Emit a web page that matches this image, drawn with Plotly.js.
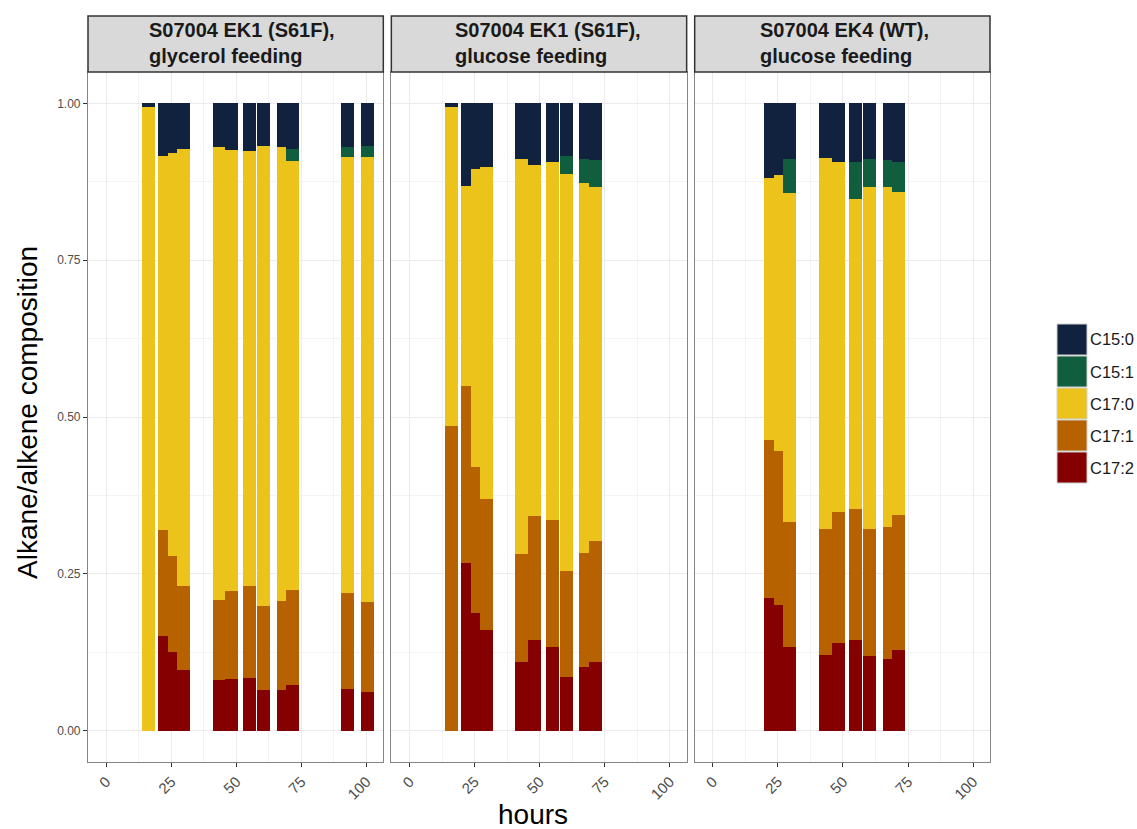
<!DOCTYPE html>
<html><head><meta charset="utf-8">
<script src="https://cdn.plot.ly/plotly-3.0.1.min.js"></script>
<style>html,body{margin:0;padding:0;background:#fff}#chart{width:1137px;height:829px}</style>
</head><body><div id="chart"></div>
<script>
// ---- data ----
const species = ['C15:0', 'C15:1', 'C17:0', 'C17:1', 'C17:2'];
const speciesColors = ['#11223f', '#105e3e', '#ecc31b', '#b76200', '#850000'];
const panelTitles = ['S07004 EK1 (S61F),<br>glycerol feeding', 'S07004 EK1 (S61F),<br>glucose feeding', 'S07004 EK4 (WT),<br>glucose feeding'];
const xTickVals = [0, 25, 50, 75, 100];
const yTickVals = [0, 0.25, 0.5, 0.75, 1];
const yTickText = ['0.00', '0.25', '0.50', '0.75', '1.00'];

// panel 1: EK1 (S61F), glycerol feeding
const p1Hours = [16.4, 22.4, 26.2, 29.8, 43.5, 48.3, 55.1, 60.4, 68.1, 71.6, 92.6, 100.3];
const p1C15_0 = [0.005, 0.084, 0.079, 0.073, 0.069, 0.074, 0.076, 0.068, 0.070, 0.072, 0.070, 0.068];
const p1C15_1 = [0, 0, 0, 0, 0, 0, 0, 0, 0, 0.020, 0.016, 0.018];
const p1C17_0 = [0.995, 0.596, 0.642, 0.696, 0.722, 0.704, 0.694, 0.733, 0.724, 0.684, 0.695, 0.709];
const p1C17_1 = [0, 0.169, 0.153, 0.134, 0.129, 0.140, 0.146, 0.134, 0.141, 0.151, 0.153, 0.143];
const p1C17_2 = [0, 0.151, 0.126, 0.097, 0.080, 0.082, 0.084, 0.065, 0.065, 0.073, 0.066, 0.062];

// panel 2: EK1 (S61F), glucose feeding
const p2Hours = [16.1, 22.1, 26.0, 29.6, 43.1, 48.0, 55.0, 60.2, 67.8, 71.3];
const p2C15_0 = [0.005, 0.131, 0.104, 0.101, 0.088, 0.098, 0.094, 0.084, 0.089, 0.090];
const p2C15_1 = [0, 0, 0, 0, 0, 0, 0, 0.028, 0.038, 0.044];
const p2C17_0 = [0.510, 0.319, 0.476, 0.530, 0.631, 0.560, 0.570, 0.634, 0.590, 0.563];
const p2C17_1 = [0.485, 0.283, 0.232, 0.209, 0.172, 0.198, 0.202, 0.169, 0.182, 0.193];
const p2C17_2 = [0, 0.267, 0.188, 0.160, 0.109, 0.144, 0.134, 0.085, 0.101, 0.110];

// panel 3: EK4 (WT), glucose feeding
const p3Hours = [22.1, 26.0, 29.6, 43.3, 48.1, 54.9, 60.1, 67.9, 71.3];
const p3C15_0 = [0.119, 0.114, 0.089, 0.087, 0.094, 0.094, 0.089, 0.091, 0.094];
const p3C15_1 = [0, 0, 0.054, 0, 0, 0.059, 0.045, 0.042, 0.047];
const p3C17_0 = [0.418, 0.440, 0.525, 0.591, 0.558, 0.494, 0.544, 0.543, 0.515];
const p3C17_1 = [0.252, 0.245, 0.198, 0.202, 0.208, 0.209, 0.203, 0.210, 0.215];
const p3C17_2 = [0.211, 0.201, 0.134, 0.120, 0.140, 0.144, 0.119, 0.114, 0.129];

const barWidth = 5;

// ---- build ----
const panels = [
  {hours: p1Hours, vals: [p1C15_0, p1C15_1, p1C17_0, p1C17_1, p1C17_2]},
  {hours: p2Hours, vals: [p2C15_0, p2C15_1, p2C17_0, p2C17_1, p2C17_2]},
  {hours: p3Hours, vals: [p3C15_0, p3C15_1, p3C17_0, p3C17_1, p3C17_2]}
];

const traces = [];
panels.forEach((p, pi) => {
  const xa = pi === 0 ? 'x' : 'x' + (pi + 1);
  const ya = pi === 0 ? 'y' : 'y' + (pi + 1);
  p.hours.forEach((h, bi) => {
    // stack bottom to top: C17:2, C17:1, C17:0, C15:1, C15:0
    for (let s = species.length - 1; s >= 0; s--) {
      traces.push({
        type: 'bar', x: [h], y: [p.vals[s][bi]], width: barWidth,
        xaxis: xa, yaxis: ya, name: species[s],
        marker: {color: speciesColors[s], line: {width: 0}},
        showlegend: false,
        hovertemplate: species[s] + ': %{y:.3f}<extra>%{x} h</extra>'
      });
    }
  });
});

// pixel helpers for layout
const W = 1137, H = 829;
const ml = 88, mr = 147, mt = 72, mb = 67;
const pw = W - ml - mr, ph = H - mt - mb;
const px = v => (v - ml) / pw;
const py = v => (H - mb - v) / ph;

const domains = [[0, 0.3274], [0.3363, 0.6637], [0.6726, 1]];
const xRange = [-7, 106.5];
const yRange = [-0.05, 1.05];

const layout = {
  width: W, height: H,
  margin: {l: ml, r: mr, t: mt, b: mb},
  paper_bgcolor: '#ffffff', plot_bgcolor: '#ffffff',
  barmode: 'stack',
  showlegend: false,
  font: {family: 'Liberation Sans, Arial, sans-serif', color: '#1a1a1a'},
  shapes: [], annotations: []
};

domains.forEach((d, i) => {
  const sx = i === 0 ? '' : String(i + 1);
  layout['xaxis' + sx] = {
    domain: d, range: xRange, anchor: 'y' + sx,
    tickvals: xTickVals, ticktext: xTickVals.map(String), tickangle: -45,
    ticks: 'outside', ticklen: 4, tickcolor: '#333333', tickwidth: 1,
    tickfont: {size: 15, color: '#4d4d4d'},
    showgrid: true, gridcolor: '#ebebeb', gridwidth: 1,
    minor: {dtick: 12.5, tick0: 12.5, showgrid: true, gridcolor: '#f3f3f3', gridwidth: 0.7, ticks: ''},
    zeroline: false, showline: true, mirror: true, linecolor: '#858585', linewidth: 1.2,
    fixedrange: true
  };
  layout['yaxis' + sx] = {
    domain: [0, 1], range: yRange, anchor: 'x' + sx,
    tickvals: yTickVals, ticktext: yTickText,
    ticks: i === 0 ? 'outside' : '', ticklen: 4, tickcolor: '#333333',
    showticklabels: i === 0,
    tickfont: {size: 12, color: '#4d4d4d'},
    showgrid: true, gridcolor: '#ebebeb', gridwidth: 1,
    minor: {dtick: 0.125, tick0: 0.125, showgrid: true, gridcolor: '#f3f3f3', gridwidth: 0.7, ticks: ''},
    zeroline: false, showline: true, mirror: true, linecolor: '#858585', linewidth: 1.2,
    fixedrange: true
  };
  // facet strip
  layout.shapes.push({
    type: 'rect', xref: 'paper', yref: 'paper',
    x0: d[0], x1: d[1], y0: 1.0, y1: py(16),
    fillcolor: '#d9d9d9', line: {color: '#333333', width: 1.5}, layer: 'above'
  });
});

const stripLeft = [147, 453, 758];
panelTitles.forEach((t, i) => {
  layout.annotations.push({
    text: t, xref: 'paper', yref: 'paper', x: px(stripLeft[i]), y: py(43),
    xanchor: 'left', yanchor: 'middle', align: 'left', showarrow: false,
    font: {size: 20, color: '#1a1a1a', family: 'Liberation Sans, Arial, sans-serif', weight: 'bold'}
  });
});

// axis titles
layout.annotations.push({
  text: 'hours', xref: 'paper', yref: 'paper', x: px(533), y: py(814),
  xanchor: 'center', yanchor: 'middle', showarrow: false,
  font: {size: 28, color: '#000000'}
});
layout.annotations.push({
  text: 'Alkane/alkene composition', xref: 'paper', yref: 'paper', x: px(27), y: py(413),
  xanchor: 'center', yanchor: 'middle', textangle: -90, showarrow: false,
  font: {size: 28, color: '#000000'}
});

// legend (keys drawn as shapes)
species.forEach((s, i) => {
  const top = 324 + i * 32;
  layout.shapes.push({
    type: 'rect', xref: 'paper', yref: 'paper',
    x0: px(1057), x1: px(1087), y0: py(top + 31), y1: py(top),
    fillcolor: speciesColors[i], line: {color: '#d0d0d0', width: 1}
  });
  layout.annotations.push({
    text: s, xref: 'paper', yref: 'paper', x: px(1088), y: py(top + 15.5),
    xanchor: 'left', yanchor: 'middle', showarrow: false,
    font: {size: 16.5, color: '#1a1a1a'}
  });
});

Plotly.newPlot('chart', traces, layout, {displayModeBar: false, responsive: false});
</script>
</body></html>
